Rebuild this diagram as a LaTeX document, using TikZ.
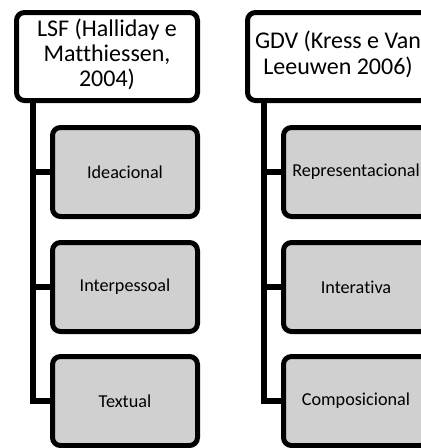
\documentclass[tikz,border=0pt]{standalone}
\usepackage{fontspec}
\setmainfont{Carlito}[Ligatures=NoCommon]
\usetikzlibrary{backgrounds}
\definecolor{childgray}{HTML}{D0D0D0}
\newcommand{\hdlines}[2][-3pt]{\raisebox{#1}{\begin{tabular}{@{}c@{}}#2\end{tabular}}}
\tikzset{
  topbox/.style={draw=black, fill=white, line width=5pt, rounded corners=8pt,
    minimum width=181pt, minimum height=88pt, inner sep=0pt,
    font=\fontsize{24}{25.3}\selectfont},
  childbox/.style={draw=black, fill=childgray, line width=5pt, rounded corners=8pt,
    minimum width=145pt, minimum height=89pt, inner sep=0pt, align=center,
    font=\fontsize{18.2}{21}\selectfont},
  bus/.style={draw=black, line width=5.5pt, line join=miter}
}
\begin{document}
\begin{tikzpicture}[x=1pt,y=-1pt]
\useasboundingbox (0,0) rectangle (421,448);
\clip (0,0) rectangle (421,448);
% nodes
\node[topbox] (ltop) at (107,56.5) {\hdlines[-3.5pt]{LSF (Halliday e\\Matthiessen,\\2004)}};
\node[childbox] (lc1) at (125,172) {Ideacional};
\node[childbox] (lc2) at (125,287) {Interpessoal};
\node[childbox] (lc3) at (125,401) {Textual};
\node[topbox] (rtop) at (338,56.5) {\hdlines[-1pt]{GDV (Kress e Van\\Leeuwen 2006)}};
\node[childbox] (rc1) at (356,172) {Representacional};
\node[childbox] (rc2) at (356,287) {Interativa};
\node[childbox] (rc3) at (356,401) {Composicional};
\coordinate (lbus) at (33,0);
\coordinate (rbus) at (264,0);
% connectors behind boxes
\begin{scope}[on background layer]
\draw[bus] (lbus |- ltop.south) |- (lc3.west);
\draw[bus] (lbus |- lc1.west) -- (lc1.west);
\draw[bus] (lbus |- lc2.west) -- (lc2.west);
\draw[bus] (rbus |- rtop.south) |- (rc3.west);
\draw[bus] (rbus |- rc1.west) -- (rc1.west);
\draw[bus] (rbus |- rc2.west) -- (rc2.west);
\end{scope}
\end{tikzpicture}
\end{document}
